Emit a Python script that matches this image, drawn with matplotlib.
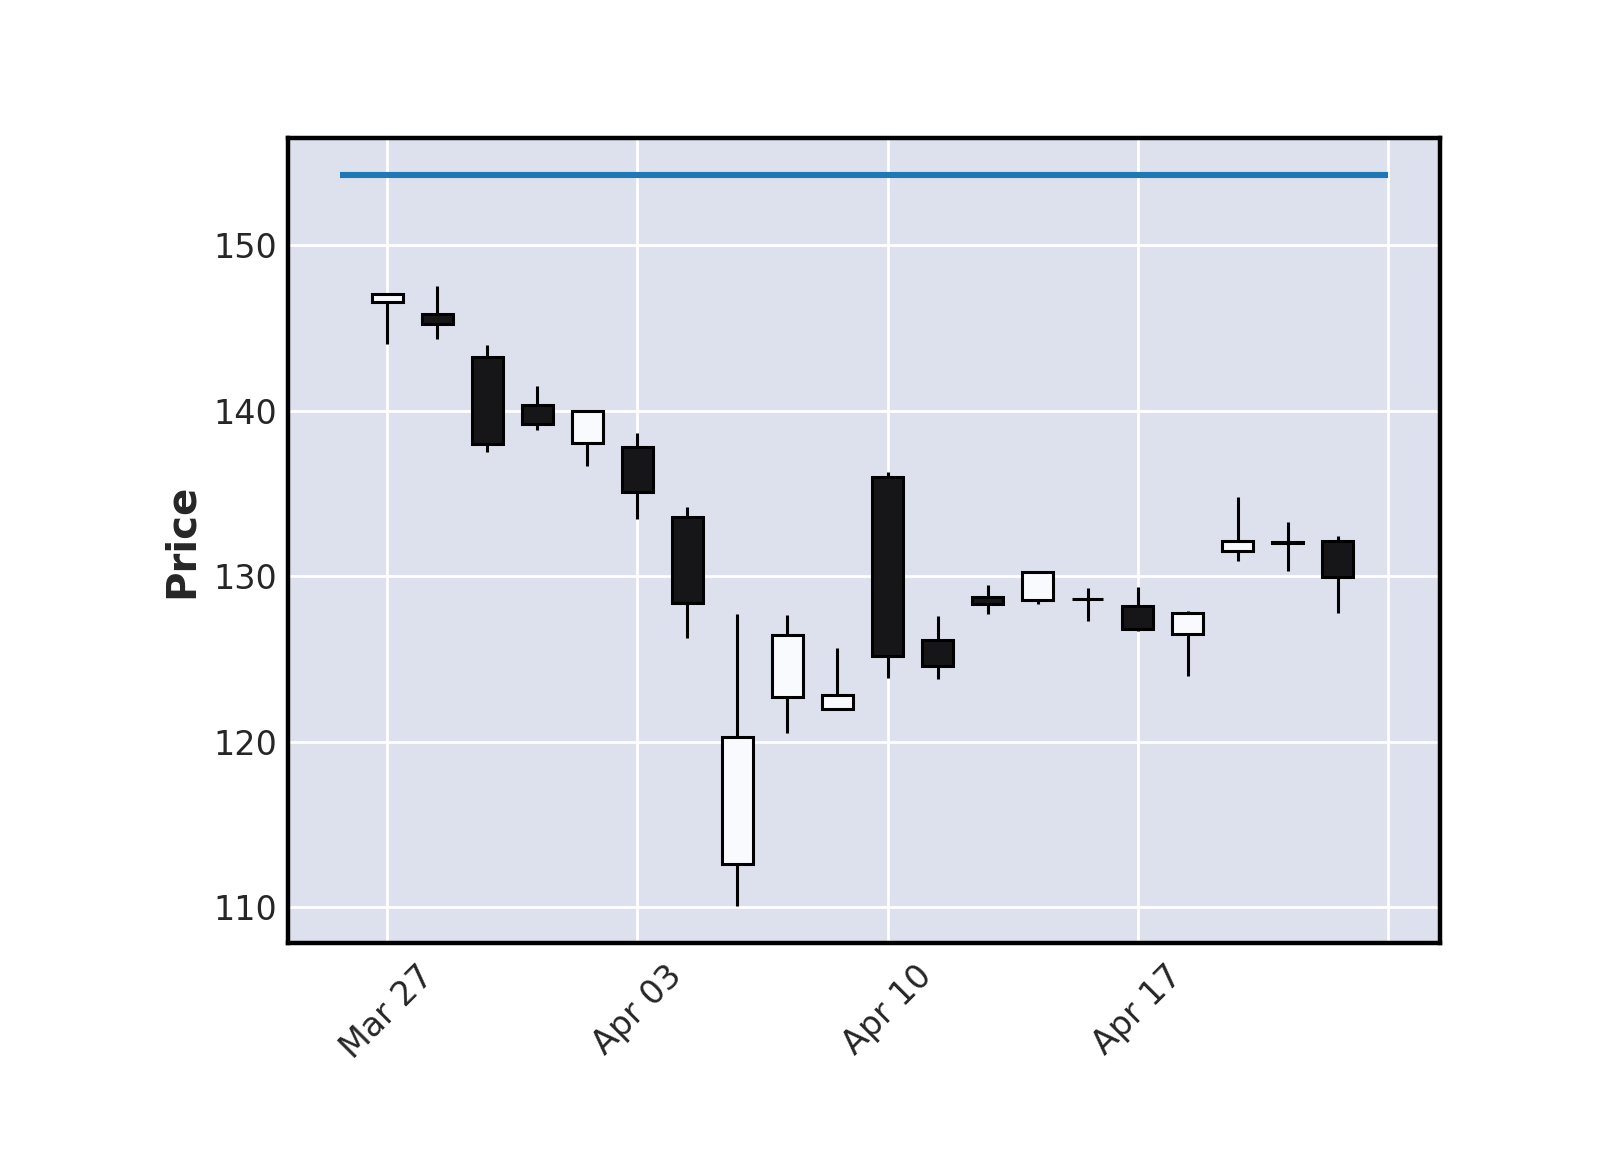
import matplotlib
matplotlib.use("Agg")
import matplotlib.pyplot as plt
from matplotlib.ticker import FixedLocator, FuncFormatter

# trading days (weekdays only)
dates = ["Mar 27", "Mar 28", "Mar 29", "Mar 30", "Mar 31",
         "Apr 03", "Apr 04", "Apr 05", "Apr 06", "Apr 07",
         "Apr 10", "Apr 11", "Apr 12", "Apr 13", "Apr 14",
         "Apr 17", "Apr 18", "Apr 19", "Apr 20", "Apr 21"]
opens = [146.55, 145.83, 143.27, 140.36, 138.08, 137.82, 133.58, 112.62, 122.67, 121.96,
         136.00, 126.16, 128.77, 128.59, 128.65, 128.23, 126.51, 131.51, 132.05, 132.12]
highs = [147.10, 147.56, 143.97, 141.49, 140.00, 138.65, 134.21, 127.74, 127.68, 125.64,
         136.33, 127.60, 129.46, 130.30, 129.30, 129.36, 127.88, 134.78, 133.29, 132.42]
lows = [144.05, 144.34, 137.50, 138.83, 136.67, 133.47, 126.24, 110.04, 120.55, 121.90,
        123.85, 123.78, 127.72, 128.33, 127.30, 126.70, 123.97, 130.95, 130.34, 127.78]
closes = [147.08, 145.22, 138.02, 139.23, 140.00, 135.12, 128.36, 120.30, 126.46, 122.81,
          125.19, 124.58, 128.35, 130.28, 128.63, 126.82, 127.78, 132.16, 132.00, 129.98]
level = 154.28
level_span = [-0.94, 20]

fig = plt.figure(figsize=(8, 5.75), dpi=200)
ax = fig.add_axes([0.18, 0.18, 0.72, 0.70])
ax.set_facecolor("#dce1ed")

x = list(range(len(dates)))
up_color = "#f8fafd"
down_color = "#161618"

# wicks
ax.vlines(x, lows, highs, color="black", linewidth=1.1, zorder=2)

# bodies
bottoms = [min(o, c) for o, c in zip(opens, closes)]
heights = [max(abs(c - o), 0.02) for o, c in zip(opens, closes)]
colors = [up_color if c >= o else down_color for o, c in zip(opens, closes)]
ax.bar(x, heights, bottom=bottoms, width=0.63, color=colors,
       edgecolor="black", linewidth=1.1, zorder=3)

# horizontal level line
ax.plot(level_span, [level, level], color="#1f77b4", linewidth=2.2,
        solid_capstyle="butt", zorder=4)

ax.grid(True, color="white", linewidth=1.0)
ax.set_axisbelow(True)
for s in ax.spines.values():
    s.set_linewidth(1.6)
    s.set_color("black")
    s.set_zorder(5)

ax.xaxis.set_major_locator(FixedLocator([0, 5, 10, 15, 20]))
ax.xaxis.set_major_formatter(FuncFormatter(
    lambda v, pos: dates[int(round(v))] if 0 <= int(round(v)) < len(dates) else ""))
ax.set_yticks([110, 120, 130, 140, 150])
ax.tick_params(axis="x", length=0, labelsize=12, labelcolor="#262626", pad=6)
ax.tick_params(axis="y", length=0, labelsize=12, labelcolor="#262626", pad=4)
plt.setp(ax.get_xticklabels(), rotation=45, ha="center")

ax.set_ylabel("Price", fontsize=14.5, fontweight="bold", color="#262626", labelpad=4)

fig.savefig("out.png", dpi=200)
